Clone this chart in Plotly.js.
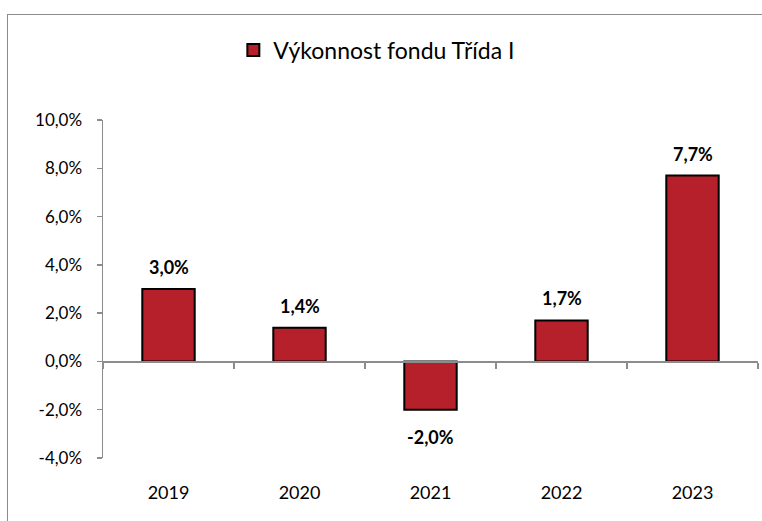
<!DOCTYPE html>
<html>
<head>
<meta charset="utf-8">
<script src="https://cdn.plot.ly/plotly-3.0.1.min.js"></script>
<style>
html,body{margin:0;padding:0;background:#fff;overflow:hidden;}
#wrap{position:relative;width:762px;height:521px;}
#chart{position:absolute;left:0;top:0;width:762px;height:521px;}
#frame{position:absolute;left:7px;top:14px;width:800px;height:600px;border:1.5px solid #8c8c8c;pointer-events:none;box-sizing:border-box;}
</style>
</head>
<body>
<div id="wrap">
<div id="chart"></div>
<div id="frame"></div>
</div>
<script>
var years = ['2019', '2020', '2021', '2022', '2023'];
var values = [3.0, 1.4, -2.0, 1.7, 7.7];
var valueLabels = ['3,0%', '1,4%', '-2,0%', '1,7%', '7,7%'];
var yTickVals = [-4, -2, 0, 2, 4, 6, 8, 10];
var yTickText = ['-4,0%', '-2,0%', '0,0%', '2,0%', '4,0%', '6,0%', '8,0%', '10,0%'];
var seriesName = 'Výkonnost fondu Třída I';

var FONT = 'Lato, "Open Sans", sans-serif';
var yMin = -4, yMax = 10;

var trace = {
  type: 'bar',
  x: years,
  y: values,
  name: seriesName,
  showlegend: true,
  marker: {color: '#B5202A', line: {color: '#000000', width: 2}},
  hoverinfo: 'skip'
};

var annotations = years.map(function(yr, i) {
  var v = values[i];
  return {
    x: i, y: v, xref: 'x', yref: 'y',
    text: '<b>' + valueLabels[i] + '</b>',
    showarrow: false,
    yanchor: 'middle',
    yshift: v >= 0 ? 22 : -27,
    font: {family: FONT, size: 18, color: '#000'}
  };
});

var layout = {
  width: 762, height: 521,
  margin: {l: 103, r: 4, t: 120, b: 63, autoexpand: false},
  paper_bgcolor: '#ffffff',
  plot_bgcolor: 'rgba(0,0,0,0)',
  font: {family: FONT, color: '#000', size: 17},
  bargap: 0.6,
  showlegend: true,
  legend: {
    orientation: 'h',
    x: 0.199, xanchor: 'left',
    y: 1 - 50/521, yref: 'container', yanchor: 'middle',
    font: {family: FONT, size: 23, color: '#000'},
    bgcolor: 'rgba(0,0,0,0)'
  },
  xaxis: {
    type: 'category',
    categoryorder: 'array', categoryarray: years,
    range: [-0.5, years.length - 0.5],
    autorange: false,
    anchor: 'free',
    position: (0 - yMin) / (yMax - yMin),
    showline: true, linecolor: '#8c8c8c', linewidth: 1.5,
    ticks: 'outside', ticklen: 6, tickcolor: '#8c8c8c', tickwidth: 1.5,
    tickson: 'boundaries',
    tickangle: 0,
    showgrid: false, zeroline: false,
    ticklabelstandoff: 114,
    tickfont: {family: FONT, size: 18, color: '#000'},
    fixedrange: true
  },
  yaxis: {
    range: [yMin, yMax],
    autorange: false,
    tickmode: 'array', tickvals: yTickVals, ticktext: yTickText,
    showline: true, linecolor: '#8c8c8c', linewidth: 1.5,
    ticks: 'outside', ticklen: 5, tickcolor: '#8c8c8c', tickwidth: 1.5,
    showgrid: false, zeroline: false,
    ticklabelstandoff: 11,
    tickfont: {family: FONT, size: 17, color: '#000'},
    fixedrange: true
  },
  annotations: annotations
};

Plotly.newPlot('chart', [trace], layout, {displayModeBar: false, staticPlot: true});
</script>
</body>
</html>
